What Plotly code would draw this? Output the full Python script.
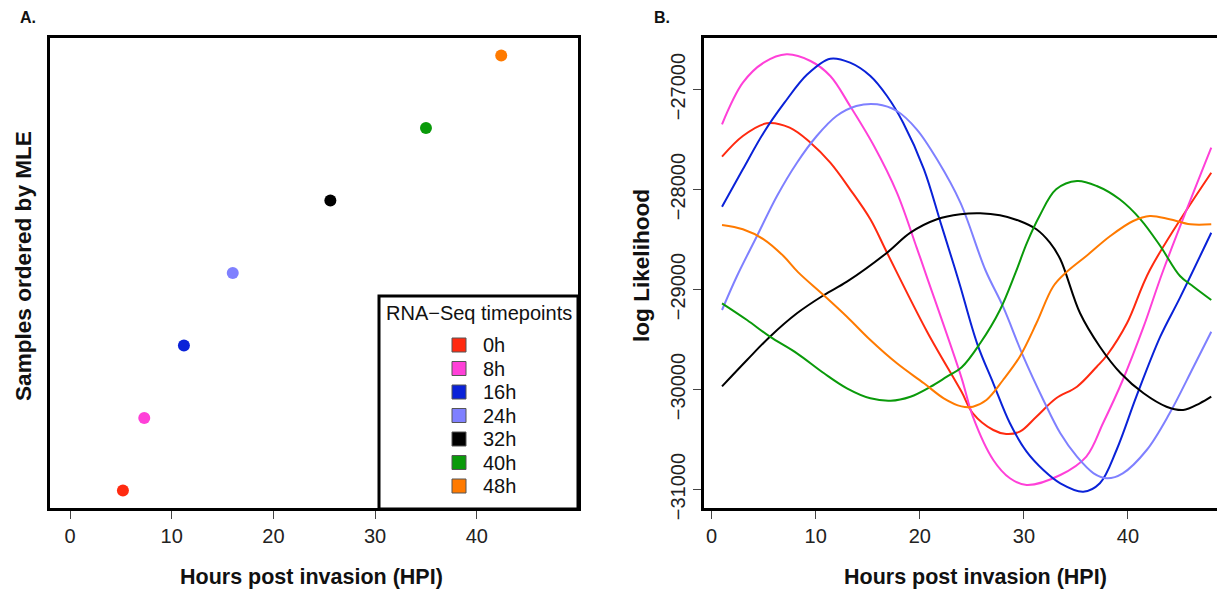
import plotly.graph_objects as go

# The page body keeps its default 8px margin, so the figure is drawn 8px
# lower/right; all pixel positions below are reference-image pixels.
OFF = 8
W, H = 1225 - OFF, 589 - OFF

# ---------------- data ----------------
timepoints = ["0h", "8h", "16h", "24h", "32h", "40h", "48h"]
colors = ["#FF2A10", "#FF40D8", "#0A22D8", "#7F80FF", "#000000", "#0A9A0A", "#FF7A00"]

# Panel A: MLE (hours) of each sample, and rank on y
mle_hpi = [5.2, 7.3, 11.2, 16.0, 25.6, 35.0, 42.4]
sample_order = [1, 2, 3, 4, 5, 6, 7]

# Panel B: log likelihood curves
hpi_0h = [1, 3, 5.3, 7.5, 9.5, 11.4, 13.3, 15.25, 16.85, 20.7, 24, 25.1, 27.06, 28.3, 29.6, 31.2, 33.1, 35.1, 37, 38, 39.9, 42.1, 48]
ll_0h = [-27671, -27464, -27337, -27381, -27531, -27731, -27997, -28297, -28631, -29421, -30020, -30237, -30404, -30444, -30421, -30271, -30087, -29971, -29771, -29654, -29337, -28804, -27831]

hpi_8h = [1, 3, 5, 7.2, 9.5, 11.4, 13.3, 15.6, 17.8, 19.7, 20.6, 24, 25.1, 27.06, 28.66, 30.26, 33.5, 36, 37.6, 39.5, 41.5, 43.4, 48]
ll_8h = [-27347, -26931, -26731, -26647, -26714, -26864, -27164, -27564, -28030, -28580, -28850, -29880, -30271, -30704, -30887, -30954, -30854, -30670, -30337, -29904, -29371, -28804, -27581]

hpi_16h = [1, 3, 5, 7, 9.2, 11.4, 13.3, 15.25, 16.85, 18.4, 20.4, 22, 23.3, 23.9, 25.5, 27.06, 28.66, 30.26, 31.87, 33.5, 35.7, 37.3, 38.9, 40.8, 43.1, 45, 48]
ll_16h = [-28171, -27797, -27431, -27131, -26847, -26691, -26731, -26864, -27064, -27331, -27797, -28331, -28764, -28971, -29537, -29937, -30337, -30621, -30804, -30937, -31021, -30937, -30604, -30071, -29471, -29080, -28431]

hpi_24h = [1, 2.44, 4.36, 6.28, 8.2, 10.1, 12.0, 13.9, 15.9, 17.8, 19.7, 21.65, 23.9, 26.3, 28.0, 29.95, 31.87, 33.5, 35.1, 36.7, 38.0, 39.5, 41.8, 44.0, 46.3, 48]
ll_24h = [-29204, -28864, -28464, -28064, -27731, -27464, -27264, -27164, -27147, -27214, -27397, -27697, -28130, -28804, -29171, -29671, -30104, -30437, -30671, -30837, -30887, -30837, -30604, -30237, -29771, -29421]

hpi_32h = [1, 3.4, 5.6, 8.2, 10.8, 13.0, 16.85, 19.1, 21.65, 23.9, 25.8, 27.7, 29.6, 31.2, 32.5, 33.5, 35.4, 37.3, 39.3, 41.5, 43.7, 45.3, 46.9, 48]
ll_32h = [-29968, -29704, -29471, -29237, -29054, -28921, -28631, -28431, -28297, -28247, -28237, -28257, -28314, -28397, -28531, -28697, -29237, -29571, -29837, -30037, -30171, -30204, -30137, -30071]

hpi_40h = [1, 3.4, 5.6, 8.2, 10.8, 13.0, 15.25, 17.2, 19.1, 21.04, 22.6, 24.0, 25.8, 27.7, 29.2, 30.3, 31.5, 33.1, 35.1, 37.0, 39.2, 41.2, 43.1, 45.0, 46.3, 48]
ll_40h = [-29137, -29304, -29471, -29637, -29837, -29987, -30087, -30111, -30071, -29971, -29871, -29780, -29537, -29204, -28830, -28530, -28264, -27997, -27914, -27964, -28097, -28297, -28564, -28864, -28971, -29104]

hpi_48h = [1, 3, 5, 6.9, 8.3, 10.75, 13.0, 15.25, 17.8, 20.4, 22.3, 24.0, 25.1, 26.4, 28.0, 29.6, 31.2, 32.8, 34.0, 36.0, 38.3, 40.5, 42.1, 44.0, 46.0, 48]
ll_48h = [-28354, -28397, -28497, -28664, -28825, -29054, -29271, -29504, -29737, -29937, -30087, -30168, -30171, -30104, -29904, -29671, -29337, -28971, -28834, -28664, -28464, -28314, -28264, -28297, -28347, -28347]

curves_x = [hpi_0h, hpi_8h, hpi_16h, hpi_24h, hpi_32h, hpi_40h, hpi_48h]
curves_y = [ll_0h, ll_8h, ll_16h, ll_24h, ll_32h, ll_40h, ll_48h]

x_ticks = [0, 10, 20, 30, 40]
y_ticks_b = [-27000, -28000, -29000, -30000, -31000]

# ---------------- layout helpers ----------------
def px(x):
    return (x - OFF) / W

def py(y):
    return 1 - (y - OFF) / H

FONT = "Liberation Sans, Arial, Helvetica, sans-serif"
TOP, BOT = 38, 508

fig = go.Figure()

# Panel A points
fig.add_trace(go.Scatter(
    x=mle_hpi, y=sample_order, mode="markers",
    marker=dict(color=colors, size=12, line=dict(width=0)),
    xaxis="x", yaxis="y", showlegend=False, hoverinfo="x+y"))

# Panel B curves
for name, xs, ys, c in zip(timepoints, curves_x, curves_y, colors):
    fig.add_trace(go.Scatter(
        x=xs, y=ys, mode="lines", name=name,
        line=dict(color=c, width=2, shape="spline", smoothing=1.0),
        xaxis="x2", yaxis="y2", showlegend=False))

axis_common = dict(showgrid=False, zeroline=False, showline=True, linecolor="black",
                   linewidth=3, ticks="outside", ticklen=8, tickwidth=1, tickcolor="#444",
                   automargin=False,
                   tickfont=dict(family=FONT, size=20, color="#222"))

fig.update_layout(
    width=W, height=H,
    margin=dict(l=0, r=0, t=0, b=0, autoexpand=False),
    paper_bgcolor="white", plot_bgcolor="white",
    xaxis=dict(domain=[px(50), px(578)], range=[-1.97, 49.95], tickvals=x_ticks,
               mirror=True, anchor="y", **axis_common),
    yaxis=dict(domain=[py(BOT), py(TOP)], range=[0.76, 7.24], showticklabels=False,
               showgrid=False, zeroline=False, showline=True, linecolor="black",
               linewidth=3, mirror=True, ticks="", anchor="x", automargin=False),
    xaxis2=dict(domain=[px(703.6), 1.0], range=[-0.77, 49.32], tickvals=x_ticks,
                mirror=True, anchor="y2", **axis_common),
    yaxis2=dict(domain=[py(BOT), py(TOP)], range=[-31184, -26484], tickvals=y_ticks_b,
                tickformat="d", tickangle=-90, mirror=False, anchor="x2", **axis_common),
    showlegend=False,
)

ann = []
def text(x, y, s, size=19, bold=False, angle=0, xanchor="center", yanchor="middle", color="#111"):
    ann.append(dict(x=px(x), y=py(y), xref="paper", yref="paper", text=f"<b>{s}</b>" if bold else s,
                    showarrow=False, textangle=angle, xanchor=xanchor, yanchor=yanchor,
                    font=dict(family=FONT, size=size, color=color)))

# panel labels
text(28, 18, "A.", size=16, bold=True)
text(662, 18, "B.", size=16, bold=True)
# axis titles
text(311, 577, "Hours post invasion (HPI)", size=21.5, bold=True)
text(975, 577, "Hours post invasion (HPI)", size=21.5, bold=True)
text(23, 266, "Samples ordered by MLE", size=22.6, bold=True, angle=-90)
text(641, 266, "log Likelihood", size=22.6, bold=True, angle=-90)

# legend (panel A, bottom-right)
shapes = [dict(type="rect", xref="paper", yref="paper", x0=px(379), x1=px(578), y0=py(509), y1=py(296),
               line=dict(color="black", width=3), fillcolor="white", layer="above")]
text(478.5, 313, "RNA−Seq timepoints", size=20)
leg_y0, leg_dy = 345, 23.5
for i, (name, c) in enumerate(zip(timepoints, colors)):
    yc = leg_y0 + i * leg_dy
    shapes.append(dict(type="rect", xref="paper", yref="paper",
                       x0=px(452), x1=px(466), y0=py(yc + 7), y1=py(yc - 7),
                       fillcolor=c, line=dict(color="#555", width=1), layer="above"))
    text(481, yc, name, size=20, xanchor="left")

fig.update_layout(annotations=ann, shapes=shapes)
fig.write_html("out.html", config={"displayModeBar": False})
